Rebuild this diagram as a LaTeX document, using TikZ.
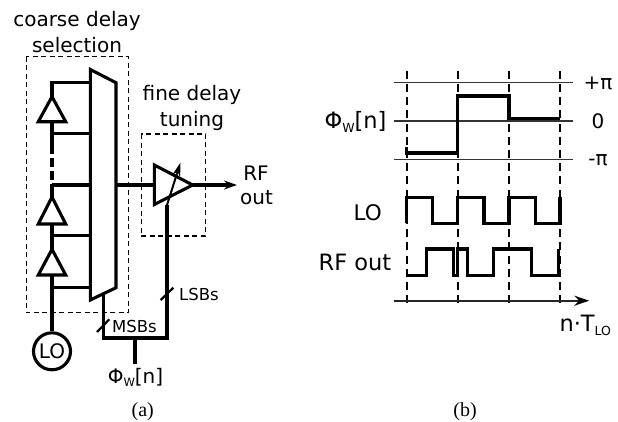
\documentclass[tikz,border=0pt]{standalone}
\usepackage{fontspec}
\setmainfont{DejaVu Sans}
\newfontfamily\capfont{Liberation Serif}
\usetikzlibrary{arrows.meta}
\newcommand{\fs}[1]{\fontsize{#1}{#1}\selectfont}
\newcommand{\subs}[1]{\raisebox{-3.5pt}{\fs{11.5}#1}}
\newcommand{\subsb}[1]{\raisebox{-4pt}{\fs{12.5}#1}}
\tikzset{
  x=1pt,y=-1pt,
  wire/.style={line width=3.1pt,line join=miter},
  buffer/.style={line width=3.1pt,line join=miter,fill=white},
  dashbox/.style={line width=1.3pt,dash pattern=on 5pt off 3.5pt},
  thinline/.style={line width=1.3pt,black!80},
  gridline/.style={line width=2.2pt,dash pattern=on 8pt off 5.2pt},
  wave/.style={line width=3.1pt,line join=miter},
  lab/.style={inner sep=0pt,anchor=base,font=\fs{20}},
  biglab/.style={inner sep=0pt,anchor=base,font=\fs{22.5}},
  smalllab/.style={inner sep=0pt,anchor=base west,font=\fs{16.5}},
  caplab/.style={inner sep=0pt,anchor=base,font=\capfont\fs{20}},
  slash/.style={line width=2.2pt},
}
\begin{document}
\begin{tikzpicture}
\useasboundingbox (0,0) rectangle (618,421);
% left panel
\node[lab] (t1) at (77,26) {coarse delay};
\node[lab] (t2) at (77,52) {selection};
\node[lab] (t3) at (192,100.7) {fine delay};
\node[lab] (t4) at (192,126.7) {tuning};
\node[lab] (t5) at (256,180) {RF};
\node[lab] (t6) at (256.5,204) {out};
\node[smalllab] (msb) at (112,332) {MSBs};
\node[smalllab] (lsb) at (179,300) {LSBs};
\node[lab] (phi) at (135.5,383) {Φ\subs{W}[n]};
\node[caplab] (capa) at (142.7,416) {(a)};
\node[caplab] (capb) at (465,416) {(b)};
\draw[dashbox] (26.3,56.7) rectangle (128.7,312.7);
\draw[dashbox] (141.3,134) rectangle (205.7,236);
% ladder
\coordinate (top) at (52,82.7);
\coordinate (b1) at (52,133.7);
\coordinate (b2) at (52,185);
\coordinate (b3) at (52,235.3);
\coordinate (b4) at (52,287.7);
\coordinate (m1) at (90.3,82.7);
\coordinate (m2) at (90.3,133.7);
\coordinate (m3) at (90.3,185);
\coordinate (m4) at (90.3,235.3);
\coordinate (m5) at (90.3,287.7);
\node[circle,draw,line width=3.1pt,minimum size=37pt,inner sep=0pt,font=\fs{20}] (lo) at (52,351.3) {LO};
\draw[wire] (lo) -- (b4);
\draw[wire] (b4) -- (b3);
\draw[wire] (b3) -- (b2);
\draw[wire] (b1) -- (52,145);
\draw[wire,dash pattern=on 9pt off 4pt] (52,145) -- (b2);
\draw[wire] (b1) -- (top) -- (m1);
\draw[wire] (b1) -- (m2);
\draw[wire] (b2) -- (m3);
\draw[wire] (b3) -- (m4);
\draw[wire] (b4) -- (m5);
\draw[buffer] (52,96.7) -- (65.7,121.7) -- (38.3,121.7) -- cycle;
\draw[buffer] (52,197) -- (65.7,224) -- (38.3,224) -- cycle;
\draw[buffer] (52,249.3) -- (65.7,275) -- (38.3,275) -- cycle;
% mux
\draw[buffer] (90.3,69.5) -- (116,82.7) -- (116,287.7) -- (90.3,300) -- cycle;
% fine delay
\coordinate (mo) at (116,185);
\coordinate (di) at (154.3,185);
\coordinate (dout) at (192.7,185);
\coordinate (rf) at (236,185);
\coordinate (bl) at (103.3,338);
\coordinate (br) at (167,338);
\coordinate (bm) at (135,338);
\coordinate (bt) at (167,205);
\coordinate (mb) at (103.3,294);
\coordinate (ph) at (135,364);
\draw[wire] (mo) -- (di);
\draw[wire] (154.3,165) -- (dout) -- (154.3,204.5) -- cycle;
\draw[wire,-{Stealth[length=13pt,width=9pt]},shorten >=-1pt] (dout) -- (rf);
\draw[wire] (mb) -- (bl) -- (br) -- (bt);
\draw[wire] (bm) -- (ph);
\draw[line width=2pt,-{Stealth[length=14pt,width=8pt]}] (bt) -- (180.5,162.5);
\draw[slash] (160.7,300) -- (173.3,287.7);
\draw[slash] (97,332) -- (109.3,319.3);
% right panel
\foreach \x/\n in {406.7/a,457.7/b,509/c,560/d}{\draw[gridline] (\x,70.7) -- (\x,306.7);}
\foreach \y in {82.7,121,159.7}{\draw[thinline] (394,\y) -- (573,\y);}
\draw[wave] (406.7,147) -- (406.7,153) -- (457.7,153) -- (457.7,96) -- (509,96) -- (509,118.3) -- (560,118.3);
\draw[wave] (406.7,223.3) -- (406.7,197.3) -- (432.7,197.3) -- (432.7,223.3) -- (457.7,223.3) -- (457.7,197.3) -- (484,197.3) -- (484,223.3) -- (509,223.3) -- (509,197.3) -- (535.7,197.3) -- (535.7,223.3) -- (560,223.3) -- (560,197.3);
\draw[wave] (406.7,275.3) -- (426.7,275.3) -- (426.7,249) -- (453.3,249) -- (453.3,275.3) -- (457.7,275.3) -- (457.7,249) -- (467.7,249) -- (467.7,275.3) -- (493.3,275.3) -- (493.3,249) -- (531.7,249) -- (531.7,275.3) -- (558.3,275.3) -- (558.3,249);
\coordinate (ax0) at (394,300.7);
\coordinate (ax1) at (589.3,300.7);
\draw[line width=1.6pt,black!85,-{Stealth[length=15pt,width=10pt,color=black]}] (ax0) -- (ax1);
\node[lab] (pp) at (598,89) {+π};
\node[lab] (pz) at (598,128.7) {0};
\node[lab] (pm) at (598,165) {-π};
\node[biglab] (phi2) at (355.5,128) {Φ\subsb{W}[n]};
\node[lab,font=\fs{21.5}] (lo2) at (367.7,220) {LO};
\node[biglab] (rf2) at (355,270) {RF out};
\node[biglab,anchor=base west] (nt) at (559.3,331.7) {n·T\subsb{LO}};
\end{tikzpicture}
\end{document}
